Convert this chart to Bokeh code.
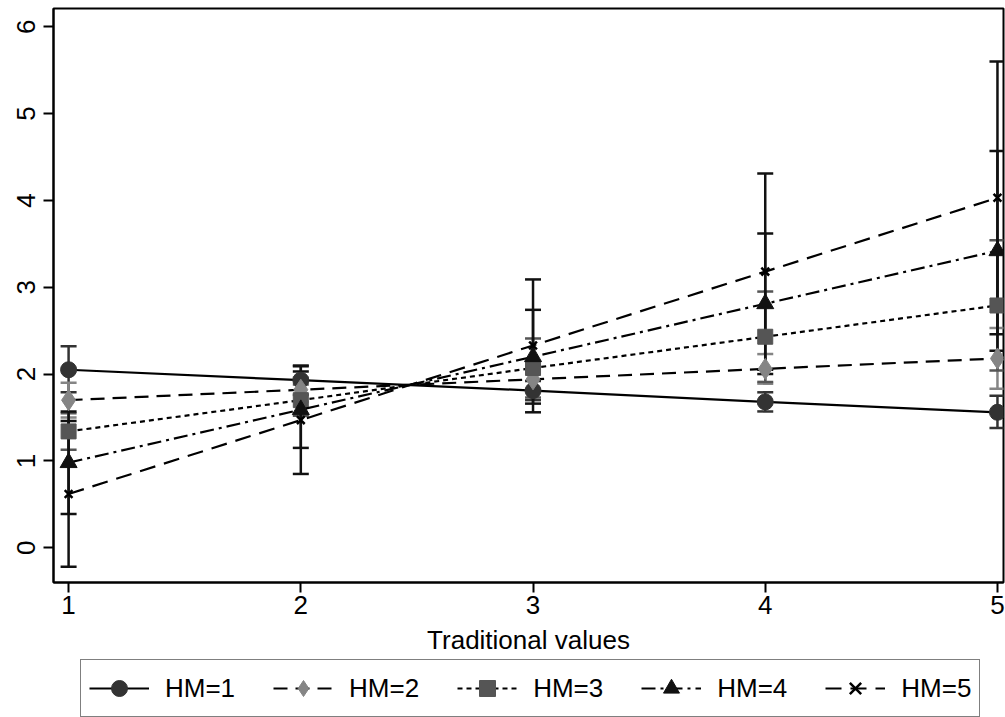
from bokeh.plotting import figure
from bokeh.layouts import column
from bokeh.models import Range1d, FixedTicker, Legend, LegendItem, Whisker, TeeHead, ColumnDataSource
from bokeh.embed import file_html
from bokeh.resources import INLINE

# ---- data ----
trad = [1, 2, 3, 4, 5]
hm1 = [2.05, 1.93, 1.81, 1.68, 1.56]
hm2 = [1.70, 1.82, 1.94, 2.06, 2.18]
hm3 = [1.34, 1.70, 2.07, 2.43, 2.79]
hm4 = [0.98, 1.59, 2.20, 2.81, 3.42]
hm5 = [0.62, 1.47, 2.33, 3.18, 4.03]

hm1_lo = [1.79, 1.76, 1.70, 1.57, 1.38]
hm1_hi = [2.32, 2.10, 1.92, 1.79, 1.75]
hm2_lo = [1.50, 1.68, 1.82, 1.89, 1.83]
hm2_hi = [1.90, 1.96, 2.06, 2.23, 2.53]
hm3_lo = [1.13, 1.52, 1.73, 1.91, 2.04]
hm3_hi = [1.55, 1.88, 2.41, 2.95, 3.54]
hm4_lo = [0.39, 1.15, 1.66, 2.00, 2.27]
hm4_hi = [1.57, 2.03, 2.74, 3.62, 4.57]
hm5_lo = [-0.22, 0.85, 1.56, 2.05, 2.46]
hm5_hi = [1.46, 2.09, 3.09, 4.31, 5.60]

labels = ["HM=1", "HM=2", "HM=3", "HM=4", "HM=5"]
x_ticks = [1, 2, 3, 4, 5]
y_ticks = [0, 1, 2, 3, 4, 5, 6]

FONT = "Liberation Sans"
FS = "26px"

p = figure(frame_width=950, frame_height=574,
           x_range=Range1d(0.935, 5.026), y_range=Range1d(-0.40, 6.21),
           output_backend="svg", toolbar_location=None,
           min_border_left=53, min_border_right=2, min_border_top=8, min_border_bottom=0,
           background_fill_color="white", border_fill_color="white")

p.outline_line_color = "black"
p.outline_line_width = 2
p.xgrid.visible = False
p.ygrid.visible = False

for ax in (p.xaxis[0], p.yaxis[0]):
    ax.axis_line_color = "black"
    ax.axis_line_width = 2
    ax.major_tick_line_width = 2
    ax.major_tick_out = 10
    ax.major_tick_in = 0
    ax.minor_tick_out = 0
    ax.minor_tick_in = 0
    ax.major_label_text_font = FONT
    ax.major_label_text_font_size = FS
    ax.major_label_text_color = "black"

p.xaxis.ticker = FixedTicker(ticks=x_ticks)
p.yaxis.ticker = FixedTicker(ticks=y_ticks)
p.yaxis.major_label_orientation = "vertical"
p.xaxis.major_label_standoff = 3
p.yaxis.major_label_standoff = 8
p.xaxis.axis_label = "Traditional values"
p.xaxis.axis_label_text_font = FONT
p.xaxis.axis_label_text_font_size = FS
p.xaxis.axis_label_text_font_style = "normal"
p.xaxis.axis_label_text_color = "black"
p.xaxis.axis_label_standoff = 8

series = [
    (hm1, hm1_lo, hm1_hi, "#333333", "circle", 16, "solid"),
    (hm2, hm2_lo, hm2_hi, "#858585", "diamond", 21, "14 8"),
    (hm3, hm3_lo, hm3_hi, "#555555", "square", 15, "5 4"),
    (hm4, hm4_lo, hm4_hi, "#111111", "triangle", 17, "14 5 3 5"),
    (hm5, hm5_lo, hm5_hi, "#111111", "x", 11, "16 9"),
]

# error bars first
for ys, lo, hi, col, mk, sz, dash in series:
    src = ColumnDataSource(dict(x=trad, lo=lo, hi=hi))
    w = Whisker(base="x", lower="lo", upper="hi", source=src, dimension="height",
                line_color=col, line_width=2.5,
                lower_head=TeeHead(size=16, line_color=col, line_width=2.5),
                upper_head=TeeHead(size=16, line_color=col, line_width=2.5))
    p.add_layout(w)


def draw_series(fig):
    out = []
    for ys, lo, hi, col, mk, sz, dash in series:
        ln = fig.line(trad, ys, line_color="black", line_width=2.2, line_dash=dash)
        if mk == "x":
            sc = fig.scatter(trad, ys, marker="x", size=sz, line_color="black", line_width=2.5)
        else:
            sc = fig.scatter(trad, ys, marker=mk, size=sz, fill_color=col, line_color=col)
        out.append((ln, sc))
    return out


draw_series(p)

# legend strip below the chart (same series styles), frame aligned with the main chart
lg = figure(frame_width=950, frame_height=60, x_range=Range1d(100, 101), y_range=Range1d(100, 101),
            output_backend="svg", toolbar_location=None,
            x_axis_type=None, y_axis_type=None,
            min_border_left=53, min_border_right=2, min_border_top=0, min_border_bottom=0,
            background_fill_color="white", border_fill_color="white")
lg.outline_line_color = None
lg.xgrid.visible = False
lg.ygrid.visible = False
rends = draw_series(lg)
items = [LegendItem(label=lab, renderers=[ln, sc]) for (ln, sc), lab in zip(rends, labels)]

legend = Legend(items=items, orientation="horizontal", location=(27, 0),
                glyph_width=60, glyph_height=40, label_standoff=16, spacing=38,
                padding=8, margin=0,
                label_text_font=FONT, label_text_font_size=FS, label_text_color="black",
                border_line_color="black", border_line_width=1.5,
                background_fill_color="white", background_fill_alpha=1.0)
lg.add_layout(legend, "center")

layout = column(p, lg, spacing=0)
open("out.html", "w").write(file_html(layout, INLINE))
